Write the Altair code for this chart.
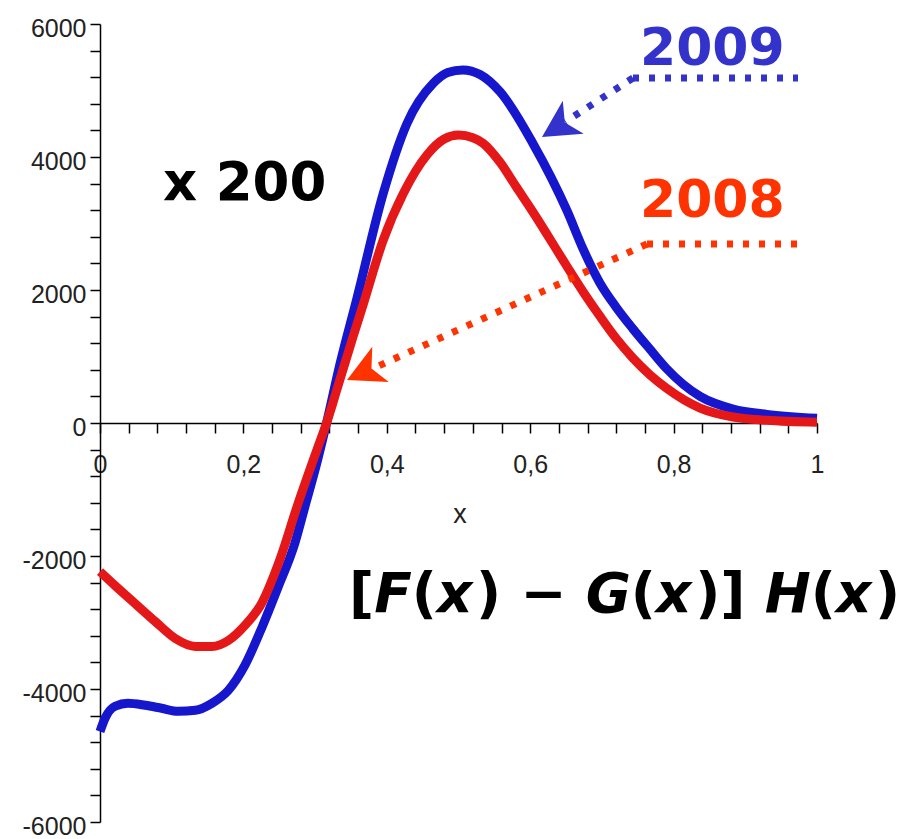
import altair as alt
import pandas as pd

# ---------------- data ----------------
x_2009 = [0.0, 0.007, 0.021, 0.039, 0.063, 0.086, 0.109, 0.133, 0.156, 0.179, 0.202,
          0.226, 0.248, 0.272, 0.286, 0.302, 0.316, 0.335, 0.358, 0.395, 0.428, 0.465,
          0.485, 0.506, 0.53, 0.558, 0.604, 0.651, 0.674, 0.697, 0.72, 0.743, 0.767,
          0.79, 0.837, 0.883, 0.93, 1.0]
y_2009 = [-4640, -4440, -4260, -4215, -4245, -4290, -4335, -4320, -4215, -4020, -3645,
          -3070, -2480, -1800, -1250, -620, 0, 900, 1860, 3450, 4500, 5110,
          5270, 5310, 5240, 4980, 4200, 3200, 2610, 2110, 1740, 1420, 1110,
          820, 400, 210, 130, 70]

x_2008 = [0.0, 0.021, 0.049, 0.077, 0.105, 0.133, 0.156, 0.179, 0.202, 0.226, 0.25,
          0.276, 0.302, 0.316, 0.332, 0.353, 0.367, 0.395, 0.423, 0.456, 0.48, 0.5,
          0.52, 0.534, 0.558, 0.58, 0.604, 0.651, 0.674, 0.697, 0.72, 0.743, 0.767,
          0.79, 0.837, 0.883, 0.93, 1.0]
y_2008 = [-2235, -2445, -2715, -2985, -3240, -3360, -3360, -3270, -3045, -2700, -2080,
          -1220, -420, 0, 560, 1300, 1780, 2750, 3450, 4030, 4270, 4330,
          4290, 4210, 3920, 3560, 3170, 2360, 1970, 1610, 1270, 980, 725,
          525, 225, 90, 40, 10]

x_ticks = [0, 0.04, 0.08, 0.12, 0.16, 0.2, 0.24, 0.28, 0.32, 0.36, 0.4, 0.44, 0.48,
           0.52, 0.56, 0.6, 0.64, 0.68, 0.72, 0.76, 0.8, 0.84, 0.88, 0.92, 0.96, 1.0]
y_ticks = [-6000, -5600, -5200, -4800, -4400, -4000, -3600, -3200, -2800, -2400,
           -2000, -1600, -1200, -800, -400, 0, 400, 800, 1200, 1600, 2000, 2400,
           2800, 3200, 3600, 4000, 4400, 4800, 5200, 5600, 6000]

label_2009 = "2009"
label_2008 = "2008"
label_scale = "x 200"
formula_parts = [("[", False), ("F", True), ("(", False), ("x", True), (") − ", False),
                 ("G", True), ("(", False), ("x", True), (")] ", False), ("H", True),
                 ("(", False), ("x", True), (")", False)]

# ---------------- styles ----------------
BLUE_LINE = "#1616cc"
RED_LINE = "#e41818"
BLUE_TXT = "#3333cc"
RED_TXT = "#ff3300"
W, H = 717, 798

df09 = pd.DataFrame({"x": x_2009, "y": y_2009})
df08 = pd.DataFrame({"x": x_2008, "y": y_2008})

xs = alt.Scale(domain=[0, 1], nice=False, zero=False)
ys = alt.Scale(domain=[-6000, 6000], nice=False, zero=False)

LBL = dict(labelFont="Liberation Sans", labelFontSize=25, labelColor="#222",
           labelFlush=False, labelOverlap=False, labelBound=False, tickCount=200)

x_axis = alt.Axis(
    orient="bottom", offset=-399, values=x_ticks, tickSize=10, tickWidth=1.5,
    tickColor="black", domainColor="black", domainWidth=1.5, grid=False,
    labelExpr="abs(datum.value*5 - round(datum.value*5)) < 0.001 ? replace(format(datum.value, '.1~f'), '.', ',') : ''",
    labelPadding=19, title=None, **LBL)
y_axis = alt.Axis(
    orient="left", values=y_ticks, tickSize=10, tickWidth=1.5, tickColor="black",
    domainColor="black", domainWidth=1.5, grid=False,
    labelExpr="datum.value % 2000 == 0 ? '' + datum.value : ''",
    labelPadding=4, labelOffset=4, title=None, **LBL)

blue = alt.Chart(df09).mark_line(color=BLUE_LINE, strokeWidth=9, interpolate="monotone").encode(
    x=alt.X("x:Q", scale=xs, axis=x_axis),
    y=alt.Y("y:Q", scale=ys, axis=y_axis),
)
red = alt.Chart(df08).mark_line(color=RED_LINE, strokeWidth=9, interpolate="monotone").encode(
    x=alt.X("x:Q", scale=xs),
    y=alt.Y("y:Q", scale=ys),
)

one = pd.DataFrame({"k": [0]})


def txt(s, x, y, color, size, weight="bold", style="normal", font="DejaVu Sans",
        align="left", baseline="alphabetic"):
    return alt.Chart(one).mark_text(
        text=s, font=font, fontSize=size, fontWeight=weight, fontStyle=style,
        color=color, align=align, baseline=baseline
    ).encode(x=alt.value(x), y=alt.value(y))


def dotted(x1, y1, x2, y2, color):
    return alt.Chart(one).mark_rule(
        color=color, strokeWidth=7, strokeDash=[6, 10], strokeCap="butt"
    ).encode(x=alt.value(x1), y=alt.value(y1), x2=alt.value(x2), y2=alt.value(y2))


ARROW = "M0,0 L-3.7,-1.95 L-2.7,0 L-3.7,1.95 Z"


def head(x, y, ang, color):
    return alt.Chart(one).mark_point(
        shape=ARROW, size=400, angle=ang, filled=True, color=color,
        opacity=1, strokeWidth=0
    ).encode(x=alt.value(x), y=alt.value(y))


layers = [blue, red]

# annotations (pixel positions inside the plot area)
layers.append(txt(label_scale, 63, 176, "black", 53))
layers.append(txt(label_2009, 540, 41, BLUE_TXT, 52))
layers.append(txt(label_2008, 540, 193, RED_TXT, 52))
layers.append(txt("x", 360, 491, "#222", 27, weight="normal", font="Liberation Sans",
                  align="center", baseline="middle"))

layers.append(dotted(533, 54, 698, 54, BLUE_TXT))
layers.append(dotted(533, 54, 465, 98, BLUE_TXT))
layers.append(head(442, 113, 147.6, BLUE_TXT))

layers.append(dotted(547, 220, 698, 220, RED_TXT))
layers.append(dotted(547, 220, 272, 345, RED_TXT))
layers.append(head(247, 356, 155, RED_TXT))

# formula with upright brackets and oblique letters
widths = {"[": 0.458, "]": 0.458, "(": 0.458, ")": 0.458, " ": 0.348, "−": 0.838,
          "F": 0.683, "G": 0.821, "H": 0.837, "x": 0.712}
FS = 55
fx = 249
for s, ital in formula_parts:
    layers.append(txt(s, fx, 588, "black", FS, style="italic" if ital else "normal"))
    fx += sum(widths[c] for c in s) * FS

chart = alt.layer(*layers).properties(
    width=W, height=H,
    padding={"left": 100, "top": 24, "right": 87, "bottom": 17},
    autosize="none", background="white",
).configure_view(strokeWidth=0)

chart.save("out.html", embed_options={"renderer": "svg", "actions": False})
